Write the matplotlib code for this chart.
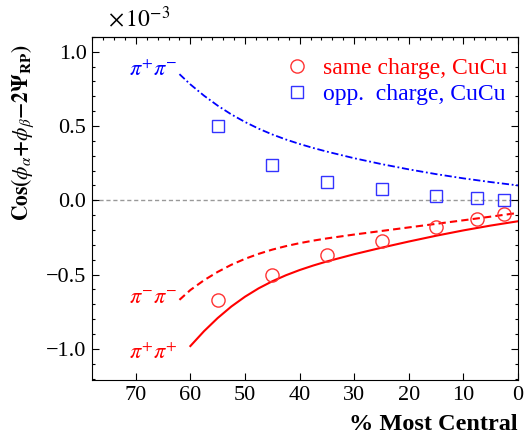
import matplotlib
matplotlib.use("Agg")
import matplotlib.pyplot as plt
from matplotlib.ticker import MultipleLocator

plt.rcParams['font.family'] = ['Liberation Serif', 'DejaVu Serif']
plt.rcParams['mathtext.fontset'] = 'stix'

# measured correlator (units of 1e-3) vs. centrality bin centre
centrality = [55, 45, 35, 25, 15, 7.5, 2.5]
same_charge = [-0.67, -0.50, -0.37, -0.275, -0.18, -0.128, -0.094]
opp_charge = [0.50, 0.24, 0.125, 0.079, 0.030, 0.018, 0.000]

# model curves
curve_x = [62, 60, 57.5, 55, 52.5, 50, 47.5, 45, 42.5, 40, 37.5, 35, 30, 25, 20, 15, 10, 5, 0]
pipm = [0.849, 0.780, 0.704, 0.637, 0.578, 0.527, 0.482, 0.443, 0.409, 0.379, 0.352,
        0.3275, 0.283, 0.2435, 0.208, 0.176, 0.1475, 0.1225, 0.100]
pimm = [-0.670, -0.604, -0.538, -0.482, -0.434, -0.394, -0.3605, -0.332, -0.3085, -0.2885,
        -0.2715, -0.2565, -0.2305, -0.2065, -0.1825, -0.1585, -0.1345, -0.110, -0.085]
pipp_x = curve_x[1:]
pipp = [-0.981, -0.881, -0.7925, -0.715, -0.649, -0.5925, -0.545, -0.5045, -0.4695,
        -0.439, -0.4115, -0.363, -0.319, -0.2775, -0.2385, -0.2025, -0.170, -0.141]

RED = '#ff0000'
BLUE = '#0000ff'

fig = plt.figure(figsize=(5.26, 4.44), dpi=100)
ax = fig.add_axes([0.175, 0.144, 0.81, 0.773])

ax.axhline(0, color='#999999', lw=1.0, ls=(0, (3, 2)), zorder=1)

ax.plot(curve_x, pipm, color=BLUE, lw=1.3, ls=(0, (4, 1.5, 1, 1.5)), zorder=2)
ax.plot(curve_x, pimm, color=RED, lw=1.5, ls=(0, (3.5, 2)), zorder=2)
ax.plot(pipp_x, pipp, color=RED, lw=1.5, ls='-', zorder=2)

ax.plot(centrality, same_charge, ls='none', marker='o', ms=9.5, mfc='none',
        mec='#ff3333', mew=1.0, label='same charge, CuCu', zorder=3)
ax.plot(centrality, opp_charge, ls='none', marker='s', ms=8, mfc='none',
        mec='#3333ff', mew=1.0, label='opp.  charge, CuCu', zorder=3)

ax.text(66.8, 0.87, r'$\pi^{+}\pi^{-}$', color=BLUE, fontsize=16, ha='center', va='center')
ax.text(66.8, -0.67, r'$\pi^{-}\pi^{-}$', color=RED, fontsize=16, ha='center', va='center')
ax.text(66.8, -1.03, r'$\pi^{+}\pi^{+}$', color=RED, fontsize=16, ha='center', va='center')

ax.set_xlim(78, 0)
ax.set_ylim(-1.21, 1.1)

ax.xaxis.set_major_locator(MultipleLocator(10))
ax.yaxis.set_minor_locator(MultipleLocator(0.1))
ax.set_yticks([-1.0, -0.5, 0.0, 0.5, 1.0])
ax.set_yticklabels(['\u22121.0', '\u22120.5', '0.0', '0.5', '1.0'])

ax.tick_params(which='both', direction='in', top=True, right=True, labelsize=16,
               width=0.8, colors='black')
ax.tick_params(which='major', length=5, pad=4)
ax.tick_params(which='minor', length=2.5)

# minor ticks along the top edge only
top = ax.secondary_xaxis('top')
top.xaxis.set_major_locator(MultipleLocator(10))
top.xaxis.set_minor_locator(MultipleLocator(2))
top.tick_params(which='both', direction='in', labeltop=False)
top.tick_params(which='major', length=5, width=0.8)
top.tick_params(which='minor', length=2.5, width=0.8)
ax.tick_params(axis='x', top=False)

for s in ax.spines.values():
    s.set_linewidth(0.8)

ax.set_ylabel(r'$\mathbf{Cos(}\boldsymbol{\phi_{\alpha}}\mathbf{+}\boldsymbol{\phi_{\beta}}\mathbf{-2\Psi_{RP})}$',
              fontsize=15.5, va='center')
ax.yaxis.set_label_coords(-0.163, 0.72)
ax.set_xlabel('% Most Central', fontsize=17.5, fontweight='bold', ha='right')
ax.xaxis.set_label_coords(1.0, -0.1)

fig.text(0.205, 0.958, r'$\times\,10^{-3}$', fontsize=17, ha='left', va='center')

leg = ax.legend(loc='upper right', bbox_to_anchor=(0.997, 0.968), frameon=False,
                fontsize=17, handlelength=1.0, handletextpad=0.6, labelspacing=0.2,
                borderaxespad=0.0, borderpad=0.4)
for txt, col in zip(leg.get_texts(), [RED, BLUE]):
    txt.set_color(col)

fig.savefig('out.png', dpi=100)
